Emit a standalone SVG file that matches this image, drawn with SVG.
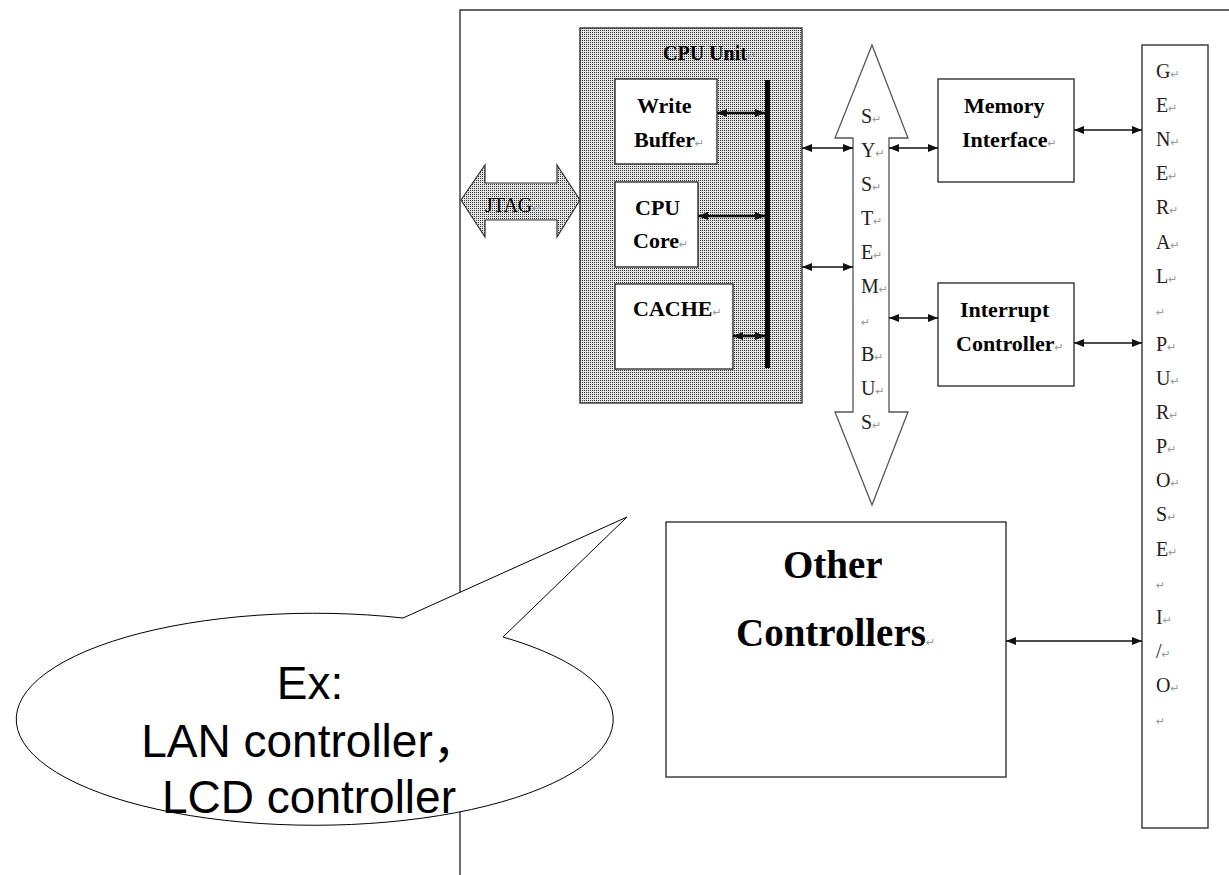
<svg xmlns="http://www.w3.org/2000/svg" width="1229" height="875" viewBox="0 0 1229 875">
<style>
.box{fill:#fff;stroke:#333;stroke-width:1.4}
.lbl{font-family:"Liberation Serif",serif;font-weight:bold;font-size:22px;fill:#000}
.big{font-family:"Liberation Serif",serif;font-weight:bold;font-size:39px;fill:#000}
.let{font-family:"Liberation Serif",serif;font-size:20px;fill:#222}
.pm{font-family:"DejaVu Sans",sans-serif;font-weight:normal;font-size:11px;fill:#999}
.con{stroke:#111;stroke-width:1.4;fill:none;marker-start:url(#ah);marker-end:url(#ah)}
.conT{stroke:#111;stroke-width:2.6;fill:none;marker-start:url(#ah);marker-end:url(#ah)}
.call{font-family:"Liberation Sans","Noto Sans CJK SC",sans-serif;font-size:46px;fill:#000}
</style>
<defs>
<pattern id="dots" width="2" height="2" patternUnits="userSpaceOnUse">
<rect width="2" height="2" fill="#e4e4e4"/>
<rect width="1" height="1" fill="#333"/>
</pattern>
<marker id="ah" viewBox="0 0 10 8" refX="10" refY="4" markerWidth="10" markerHeight="8" markerUnits="userSpaceOnUse" orient="auto-start-reverse">
<path d="M0,0 L10,4 L0,8 z" fill="#111"/>
</marker>
</defs>
<rect width="1229" height="875" fill="#fff"/>
<g id="frame">
<path d="M460,875 V10 H1229" fill="none" stroke="#333" stroke-width="1.4"/>
</g>
<g id="cpu-unit">
<rect x="580" y="28" width="222" height="375" fill="url(#dots)" stroke="#333" stroke-width="1.4"/>
<text class="lbl" x="663" y="60" style="font-size:20px">CPU Unit<tspan class="pm">↵</tspan></text>
<rect x="765" y="80" width="5" height="288" fill="#000"/>
</g>
<g id="write-buffer">
<rect class="box" x="615" y="79" width="102" height="85"/>
<text class="lbl" x="637" y="113">Write</text>
<text class="lbl" x="634" y="147">Buffer<tspan class="pm">↵</tspan></text>
</g>
<g id="cpu-core">
<rect class="box" x="615" y="182" width="83" height="85"/>
<text class="lbl" x="635" y="215">CPU</text>
<text class="lbl" x="633" y="248">Core<tspan class="pm">↵</tspan></text>
</g>
<g id="cache">
<rect class="box" x="615" y="284" width="118" height="85"/>
<text class="lbl" x="633" y="316">CACHE<tspan class="pm">↵</tspan></text>
</g>
<g id="jtag">
<polygon points="461,200 485,165 485,183 557,183 557,165 580,200 557,237 557,220 485,220 485,237" fill="url(#dots)" stroke="#333" stroke-width="1.2"/>
<text class="let" x="485" y="212" style="font-size:20px;fill:#000">JTAG<tspan class="pm">↵</tspan></text>
</g>
<g id="system-bus">
<polygon points="872,45 908,138 889,138 889,412 908,412 872,505 835,412 853,412 853,138 835,138" fill="#fff" stroke="#555" stroke-width="1.3"/>
<text class="let" x="861" y="123">S<tspan class="pm">↵</tspan></text>
<text class="let" x="861" y="157">Y<tspan class="pm">↵</tspan></text>
<text class="let" x="861" y="191">S<tspan class="pm">↵</tspan></text>
<text class="let" x="861" y="225">T<tspan class="pm">↵</tspan></text>
<text class="let" x="861" y="259">E<tspan class="pm">↵</tspan></text>
<text class="let" x="861" y="293">M<tspan class="pm">↵</tspan></text>
<text class="pm" x="861" y="326">↵</text>
<text class="let" x="861" y="361">B<tspan class="pm">↵</tspan></text>
<text class="let" x="861" y="395">U<tspan class="pm">↵</tspan></text>
<text class="let" x="861" y="429">S<tspan class="pm">↵</tspan></text>
</g>
<g id="memory-interface">
<rect class="box" x="938" y="79" width="136" height="103"/>
<text class="lbl" x="964" y="113">Memory</text>
<text class="lbl" x="962" y="147">Interface<tspan class="pm">↵</tspan></text>
</g>
<g id="interrupt-controller">
<rect class="box" x="938" y="283" width="136" height="103"/>
<text class="lbl" x="960" y="317">Interrupt</text>
<text class="lbl" x="956" y="351">Controller<tspan class="pm">↵</tspan></text>
</g>
<g id="other-controllers">
<rect class="box" x="666" y="522" width="340" height="255"/>
<text class="big" x="783" y="578">Other</text>
<text class="big" x="736" y="646">Controllers<tspan class="pm">↵</tspan></text>
</g>
<g id="general-purpose-io">
<rect class="box" x="1142" y="45" width="66" height="783"/>
<text class="let" x="1156" y="78">G<tspan class="pm">↵</tspan></text>
<text class="let" x="1156" y="112">E<tspan class="pm">↵</tspan></text>
<text class="let" x="1156" y="146">N<tspan class="pm">↵</tspan></text>
<text class="let" x="1156" y="180">E<tspan class="pm">↵</tspan></text>
<text class="let" x="1156" y="214">R<tspan class="pm">↵</tspan></text>
<text class="let" x="1156" y="249">A<tspan class="pm">↵</tspan></text>
<text class="let" x="1156" y="283">L<tspan class="pm">↵</tspan></text>
<text class="pm" x="1156" y="316">↵</text>
<text class="let" x="1156" y="351">P<tspan class="pm">↵</tspan></text>
<text class="let" x="1156" y="385">U<tspan class="pm">↵</tspan></text>
<text class="let" x="1156" y="419">R<tspan class="pm">↵</tspan></text>
<text class="let" x="1156" y="453">P<tspan class="pm">↵</tspan></text>
<text class="let" x="1156" y="487">O<tspan class="pm">↵</tspan></text>
<text class="let" x="1156" y="521">S<tspan class="pm">↵</tspan></text>
<text class="let" x="1156" y="556">E<tspan class="pm">↵</tspan></text>
<text class="pm" x="1156" y="589">↵</text>
<text class="let" x="1156" y="624">I<tspan class="pm">↵</tspan></text>
<text class="let" x="1156" y="658">/<tspan class="pm">↵</tspan></text>
<text class="let" x="1156" y="692">O<tspan class="pm">↵</tspan></text>
<text class="pm" x="1156" y="725">↵</text>
</g>
<g id="connectors">
<line class="conT" x1="717" y1="113" x2="765" y2="113"/>
<line class="conT" x1="698" y1="216" x2="765" y2="216"/>
<line class="conT" x1="733" y1="336" x2="765" y2="336"/>
<line class="con" x1="802" y1="148" x2="853" y2="148"/>
<line class="con" x1="802" y1="267" x2="853" y2="267"/>
<line class="con" x1="889" y1="148" x2="938" y2="148"/>
<line class="con" x1="889" y1="318" x2="938" y2="318"/>
<line class="con" x1="1074" y1="130" x2="1142" y2="130"/>
<line class="con" x1="1074" y1="343" x2="1142" y2="343"/>
<line class="con" x1="1006" y1="641" x2="1142" y2="641"/>
</g>
<g id="callout">
<path d="M403,618 L627,517 L503,637 A298.5,106 0 1 1 403,618 Z" fill="#fff" stroke="#000" stroke-width="1"/>
<text class="call" x="310" y="699" text-anchor="middle">Ex:</text>
<text class="call" x="310" y="757" text-anchor="middle">LAN controller，</text>
<text class="call" x="309" y="813" text-anchor="middle">LCD controller</text>
</g>
</svg>
